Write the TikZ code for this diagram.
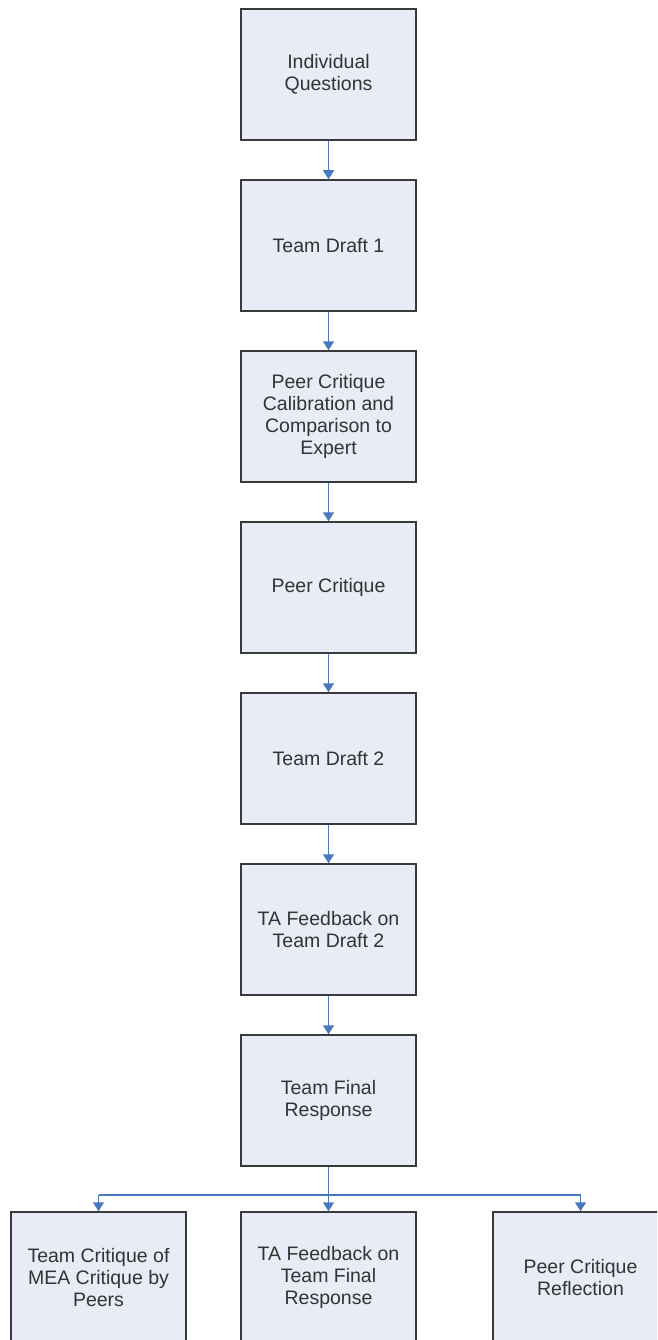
\documentclass[tikz,border=0pt]{standalone}
\usepackage{fontspec}
\setmainfont{Liberation Sans}
\usetikzlibrary{arrows.meta}
\definecolor{boxfill}{HTML}{E8ECF6}
\definecolor{boxline}{HTML}{3A3A3A}
\definecolor{arrowblue}{HTML}{4A78BE}
\definecolor{txt}{HTML}{333333}
\begin{document}
\begin{tikzpicture}[x=1pt,y=-1pt,
  stepbox/.style={draw=boxline, line width=1.5pt, fill=boxfill, minimum width=175pt, minimum height=131pt, inner sep=0pt, align=center, font=\fontsize{19.5}{22}\selectfont, text=txt},
  flow/.style={draw=arrowblue, line width=1.5pt, -{Triangle[length=9pt,width=11pt]}},
  flowline/.style={draw=arrowblue, line width=1.5pt}]
\useasboundingbox (0,0) rectangle (657,1340);
\clip (0,0) rectangle (657,1340);
\fill[white] (0,0) rectangle (657,1340);
\node[stepbox] (b1) at (328.5,74.5) {Individual\\Questions};
\node[stepbox] (b2) at (328.5,245.5) {Team Draft 1};
\node[stepbox] (b3) at (328.5,416.5) {Peer Critique\\Calibration and\\Comparison to\\Expert};
\node[stepbox] (b4) at (328.5,587.5) {Peer Critique};
\node[stepbox] (b5) at (328.5,758.5) {Team Draft 2};
\node[stepbox] (b6) at (328.5,929.5) {TA Feedback on\\Team Draft 2};
\node[stepbox] (b7) at (328.5,1100.5) {Team Final\\Response};
\node[stepbox] (b8) at (98.5,1277.5) {Team Critique of\\MEA Critique by\\Peers};
\node[stepbox] (b9) at (328.5,1277.5) {TA Feedback on\\Team Final\\Response};
\node[stepbox] (b10) at (580.5,1277.5) {Peer Critique\\Reflection};
\coordinate (br) at (328.5,1195);
\draw[flow] (b1) -- (b2);
\draw[flow] (b2) -- (b3);
\draw[flow] (b3) -- (b4);
\draw[flow] (b4) -- (b5);
\draw[flow] (b5) -- (b6);
\draw[flow] (b6) -- (b7);
\draw[flow] (b7) -- (b9);
\draw[flowline] (b8 |- br) -- (b10 |- br);
\draw[flow] (b8 |- br) -- (b8.north);
\draw[flow] (b10 |- br) -- (b10.north);
\end{tikzpicture}
\end{document}
